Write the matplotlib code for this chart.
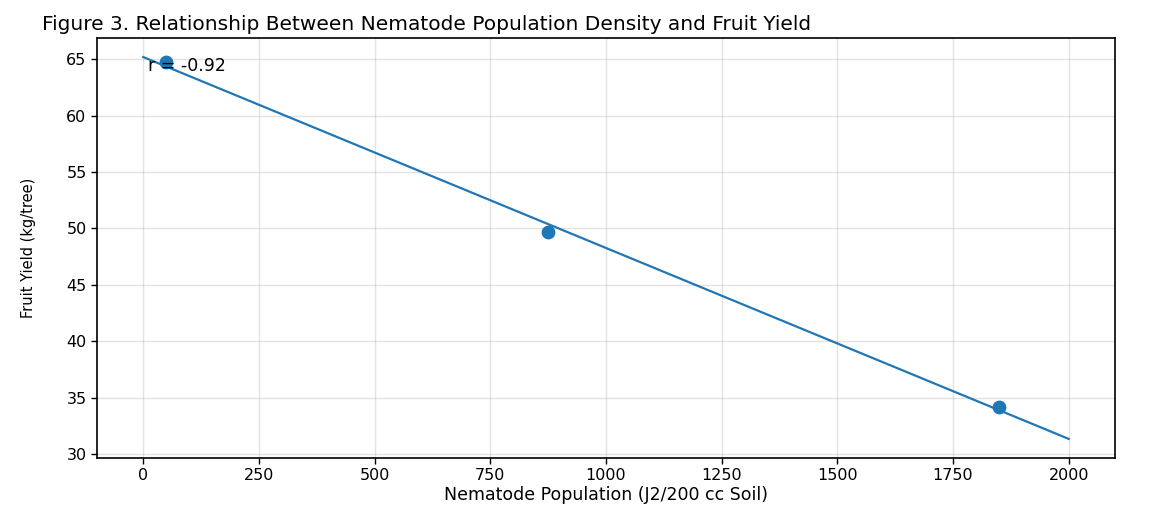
import numpy as np
import matplotlib
matplotlib.use("Agg")
import matplotlib.pyplot as plt

# Data
nematode_pop = [50, 875, 1850]
fruit_yield = [64.7, 49.7, 34.2]
r_label = "r = -0.92"
fit_x_range = [0, 2000]

title = "Figure 3. Relationship Between Nematode Population Density and Fruit Yield"
xlabel = "Nematode Population (J2/200 cc Soil)"
ylabel = "Fruit Yield (kg/tree)"

plt.rcParams['font.family'] = ['DejaVu Sans']

fig = plt.figure(figsize=(11.51, 5.05), dpi=100)
ax = fig.add_axes([0.0843, 0.0931, 0.8844, 0.8317])

ax.scatter(nematode_pop, fruit_yield, s=80, color='#1f77b4', zorder=3)

slope, intercept = np.polyfit(nematode_pop, fruit_yield, 1)
xs = np.linspace(fit_x_range[0], fit_x_range[1], 100)
ax.plot(xs, slope * xs + intercept, color='#1f77b4', linewidth=1.6, zorder=2)

ax.text(0.05, 0.955, r_label, transform=ax.transAxes, va='top', ha='left', fontsize=12.5)

ax.grid(True, color='#b0b0b0', alpha=0.35, linewidth=1.0)
ax.set_axisbelow(True)
ax.tick_params(labelsize=11.5, length=4, width=1)
ax.set_xlabel(xlabel, fontsize=12.5, labelpad=2)
ax.set_ylabel(ylabel, fontsize=10.5, labelpad=22)
for s in ax.spines.values():
    s.set_linewidth(1.2)

fig.text(42 / 1151, 1 - 30 / 505, title, ha='left', va='baseline', fontsize=14.5)

fig.savefig("out.png", dpi=100)
